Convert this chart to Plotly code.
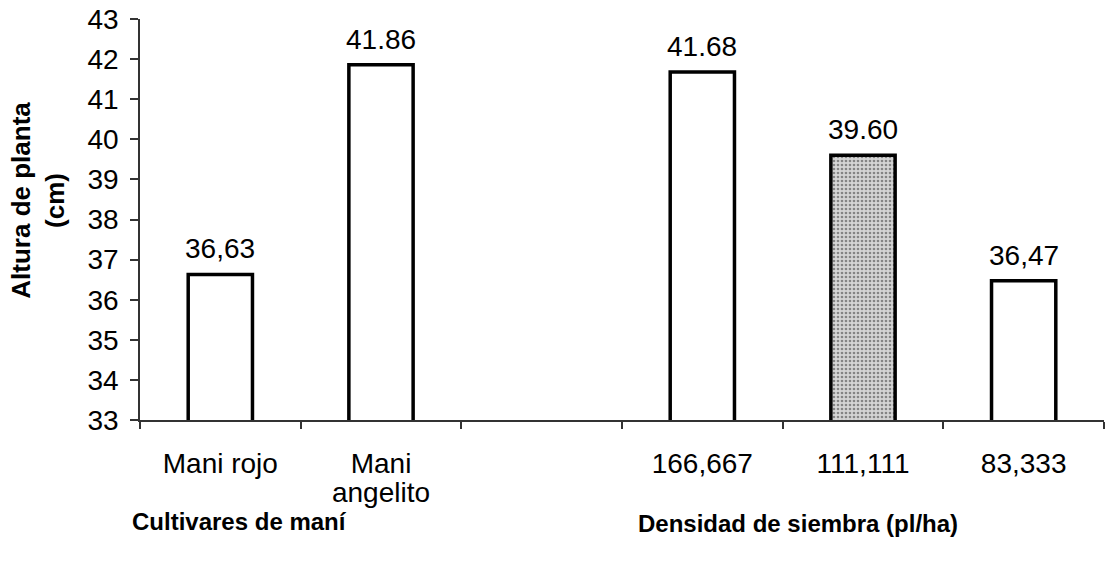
import plotly.graph_objects as go

# Plant height by peanut cultivar and by sowing density
categories = ["Mani rojo", "Mani angelito", " ", "166,667", "111,111", "83,333"]
tick_lines = [["Mani rojo"], ["Mani", "angelito"], [" "], ["166,667"], ["111,111"], ["83,333"]]
heights = [36.63, 41.86, None, 41.68, 39.60, 36.47]
value_labels = ["36,63", "41.86", "", "41.68", "39.60", "36,47"]
fill_patterns = ["", "", "", "", ".", ""]

y_ticks = list(range(33, 44))

FONT = "Liberation Sans, Arial, sans-serif"

# tick text drawn at a larger glyph size than the base font, which keeps the
# two-line label tightly spaced
tick_text = ["<br>".join(f"<span style='font-size:28px'>{ln}</span>" for ln in lines)
             for lines in tick_lines]

fig = go.Figure()
fig.add_trace(go.Bar(
    x=categories,
    y=heights,
    marker=dict(
        color="white",
        line=dict(color="black", width=3.5),
        pattern=dict(shape=fill_patterns, fgcolor="#333333", bgcolor="#d4d4d4",
                     size=4, solidity=0.35, fillmode="overlay"),
    ),
    width=0.4,
    showlegend=False,
))

# value labels above each bar
annotations = []
for cat, h, lab in zip(categories, heights, value_labels):
    if h is None:
        continue
    annotations.append(dict(
        x=cat, y=h, xref="x", yref="y", text=lab, showarrow=False,
        xanchor="center", yanchor="bottom", yshift=8,
        font=dict(family=FONT, size=28, color="black"),
    ))

annotations += [
    dict(text="<b>Altura de planta<br>(cm)</b>", xref="paper", yref="paper",
         x=-0.106, y=0.549, xanchor="center", yanchor="middle", textangle=-90,
         showarrow=False, font=dict(family=FONT, size=26, color="black")),
    dict(text="<b>Cultivares de maní</b>", xref="paper", yref="paper",
         x=0.1037, y=-0.254, xanchor="center", yanchor="middle",
         showarrow=False, font=dict(family=FONT, size=24, color="black")),
    dict(text="<b>Densidad de siembra (pl/ha)</b>", xref="paper", yref="paper",
         x=0.6826, y=-0.259, xanchor="center", yanchor="middle",
         showarrow=False, font=dict(family=FONT, size=24, color="black")),
]

fig.update_layout(
    width=1105,
    height=569,
    margin=dict(l=140, r=1, t=19, b=149),
    paper_bgcolor="white",
    plot_bgcolor="white",
    font=dict(family=FONT, size=28, color="black"),
    xaxis=dict(
        type="category",
        categoryorder="array",
        categoryarray=categories,
        tickmode="array",
        tickvals=categories,
        ticktext=tick_text,
        tickson="boundaries",
        ticks="outside",
        ticklen=7,
        tickwidth=1.5,
        tickcolor="#333333",
        showline=True,
        linecolor="#333333",
        linewidth=1.5,
        showgrid=False,
        tickfont=dict(family=FONT, size=22, color="black"),
        ticklabelstandoff=25,
    ),
    yaxis=dict(
        range=[33, 43],
        tickvals=y_ticks,
        ticks="outside",
        ticklen=8,
        tickwidth=1.5,
        tickcolor="#333333",
        showline=True,
        linecolor="#333333",
        linewidth=1.5,
        showgrid=False,
        zeroline=False,
        tickfont=dict(family=FONT, size=28, color="black"),
        ticklabelstandoff=6,
    ),
    annotations=annotations,
)

fig.write_html("out.html")
